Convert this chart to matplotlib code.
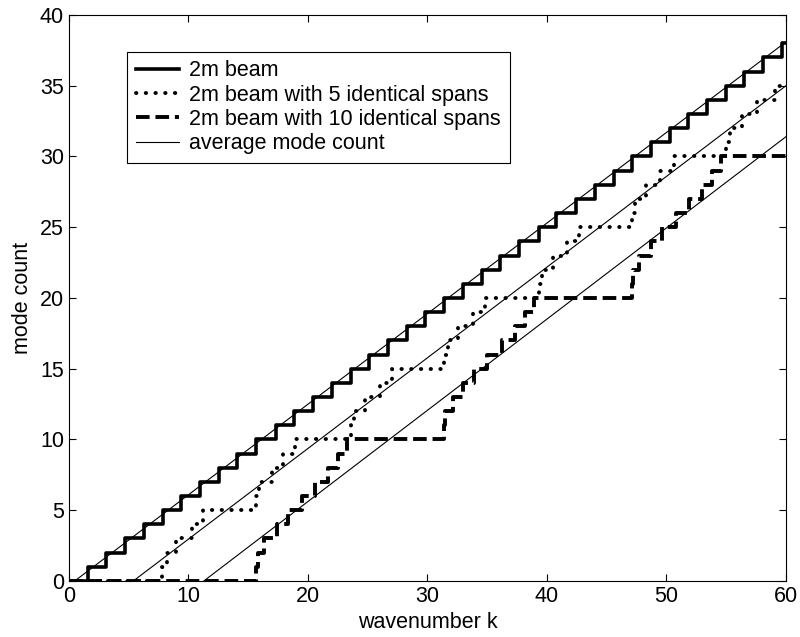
import numpy as np
import matplotlib
matplotlib.use("Agg")
import matplotlib.pyplot as plt

plt.rcParams["font.family"] = ["Liberation Sans", "DejaVu Sans"]

# wavenumbers at which the mode count steps up by one
k_beam = [1.6, 3.1, 4.7, 6.3, 7.9, 9.4, 11.0, 12.6, 14.1, 15.7, 17.3, 18.8,
          20.4, 22.0, 23.6, 25.1, 26.7, 28.3, 29.8, 31.4, 33.0, 34.6, 36.1,
          37.7, 39.3, 40.8, 42.4, 44.0, 45.6, 47.1, 48.7, 50.3, 51.8, 53.4,
          55.0, 56.5, 58.1, 59.7]

k_5spans = [7.8, 8.2, 9.0, 10.3, 11.2,
            15.7, 15.9, 17.0, 17.9, 18.9,
            23.6, 23.9, 24.8, 26.0, 27.0,
            31.4, 31.7, 32.6, 33.8, 34.8,
            39.3, 39.6, 40.5, 41.7, 42.7,
            47.1, 47.4, 48.3, 49.5, 50.6,
            55.0, 55.3, 56.3, 57.6, 59.1]

k_10spans = [15.7, 15.8, 16.3, 17.4, 18.3, 19.5, 20.6, 21.7, 22.5, 23.3,
             31.4, 31.5, 32.1, 33.0, 33.9, 35.0, 36.2, 37.3, 38.2, 38.9,
             47.1, 47.2, 47.7, 48.7, 49.6, 50.8, 51.9, 53.0, 53.8, 54.6]

# average mode count lines (end points)
avg_beam_k, avg_beam_n = [0.5, 60], [0, 38.1]
avg_5_k, avg_5_n = [5.4, 60], [0, 35.0]
avg_10_k, avg_10_n = [11.3, 60], [0, 31.4]

K_MAX = 60
FS = 15.5


def staircase(k_steps):
    x = np.concatenate([[0], k_steps, [K_MAX]])
    y = np.arange(len(k_steps) + 1)
    y = np.concatenate([y, [y[-1]]])
    return x, y


fig = plt.figure(figsize=(8, 6.37), dpi=100)
ax = fig.add_axes([0.086, 0.088, 0.8965, 0.8885])

x, y = staircase(k_beam)
ax.step(x, y, where="post", color="black", lw=2.6, label="2m beam")
x, y = staircase(k_5spans)
ax.step(x, y, where="post", color="black", lw=2.8, linestyle=(0, (0.1, 2.4)),
        dash_capstyle="round", label="2m beam with 5 identical spans")
x, y = staircase(k_10spans)
ax.step(x, y, where="post", color="black", lw=2.8, linestyle=(0, (3.5, 1.5)),
        label="2m beam with 10 identical spans")

ax.plot(avg_beam_k, avg_beam_n, color="black", lw=0.8, label="average mode count")
ax.plot(avg_5_k, avg_5_n, color="black", lw=0.8)
ax.plot(avg_10_k, avg_10_n, color="black", lw=0.8)

ax.set_xlim(0, 60)
ax.set_ylim(0, 40)
ax.set_xticks(range(0, 61, 10))
ax.set_yticks(range(0, 41, 5))
ax.tick_params(direction="in", top=True, right=True, length=5, width=0.8,
               labelsize=FS)
ax.set_xlabel("wavenumber k", fontsize=FS, labelpad=4)
ax.set_ylabel("mode count", fontsize=FS, labelpad=5)
for s in ax.spines.values():
    s.set_linewidth(0.8)

leg = ax.legend(loc="upper left", bbox_to_anchor=(0.081, 0.935),
                borderaxespad=0, fancybox=False, framealpha=1,
                edgecolor="black", fontsize=FS, handlelength=2.0,
                handletextpad=0.5, labelspacing=0.15, borderpad=0.4)
leg.get_frame().set_linewidth(0.8)

fig.savefig("out.png", dpi=100)
